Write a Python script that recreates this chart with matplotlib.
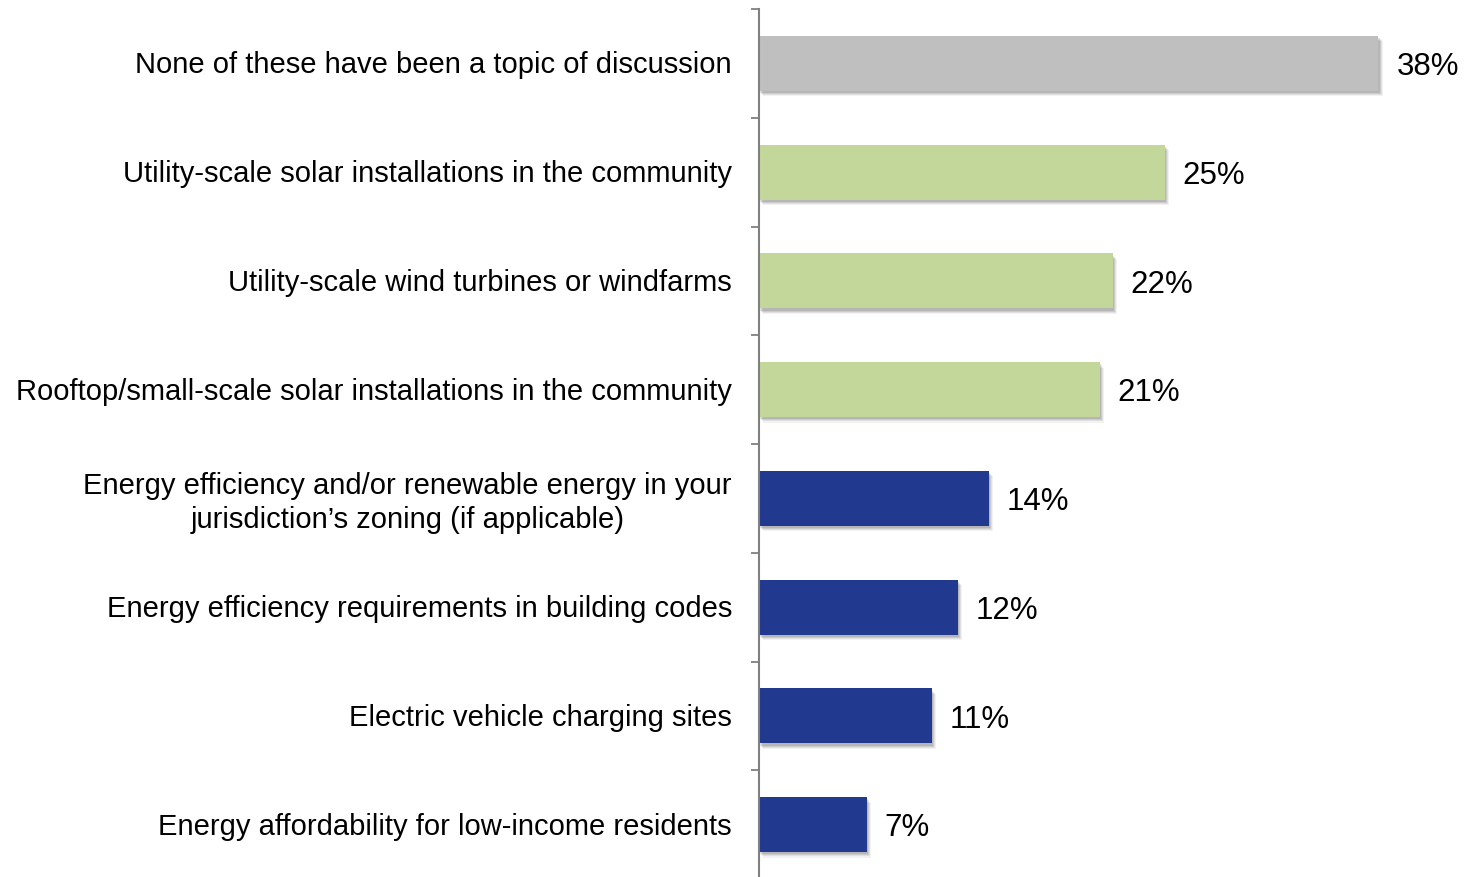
import matplotlib
matplotlib.use("Agg")
import matplotlib.pyplot as plt
import matplotlib.transforms as mtransforms
from matplotlib.patches import Rectangle
import numpy as np

categories = [
    "None of these have been a topic of discussion",
    "Utility-scale solar installations in the community",
    "Utility-scale wind turbines or windfarms",
    "Rooftop/small-scale solar installations in the community",
    "Energy efficiency and/or renewable energy in your\njurisdiction\u2019s zoning (if applicable)",
    "Energy efficiency requirements in building codes",
    "Electric vehicle charging sites",
    "Energy affordability for low-income residents",
]
values = [38.0, 24.9, 21.7, 20.9, 14.1, 12.2, 10.6, 6.6]
labels = ["38%", "25%", "22%", "21%", "14%", "12%", "11%", "7%"]
groups = ["none", "green", "green", "green", "blue", "blue", "blue", "blue"]
palette = {"none": "#BFBFBF", "green": "#C4D79B", "blue": "#21398F"}

plt.rcParams['font.family'] = ['Liberation Sans', 'DejaVu Sans']

W, H = 1464, 878
fig = plt.figure(figsize=(W / 100, H / 100), dpi=100)
ax_left = 759 / W
ax_top = 1 - 10 / H
ax_bottom = (H - 880) / H
ax = fig.add_axes([ax_left, ax_bottom, 1 - ax_left, ax_top - ax_bottom])

px_per_unit = 16.3
ax.set_xlim(0, (W - 759) / px_per_unit)
ax.set_ylim(len(categories) - 0.5, -0.5)

y = np.arange(len(categories))
bar_h = 0.505
colors = [palette[g] for g in groups]

# soft shadows
for yi, v in zip(y, values):
    for dx, dy, a in [(0.26, 0.05, 0.05), (0.2, 0.04, 0.07), (0.14, 0.03, 0.09), (0.08, 0.02, 0.10)]:
        ax.add_patch(Rectangle((dx, yi - bar_h / 2 + dy), v, bar_h,
                               facecolor="#000000", alpha=a, edgecolor="none", zorder=1))
ax.barh(y, values, height=bar_h, color=colors, edgecolor="none", zorder=2)

for yi, v, lab in zip(y, values, labels):
    ax.text(v + 18 / px_per_unit, yi + 0.025, lab, va="center", ha="left", fontsize=22.5, color="#000000")

ax.set_yticks(y)
ax.set_yticklabels(categories, fontsize=21, multialignment="center", linespacing=1.25)
ax.tick_params(axis="y", which="major", length=0, pad=19.5)
shift = mtransforms.ScaledTranslation(0, 2 / 100, fig.dpi_scale_trans)
for t in ax.get_yticklabels():
    t.set_transform(t.get_transform() + shift)
ax.set_yticks(np.arange(-0.5, len(categories), 1.0), minor=True)
ax.tick_params(axis="y", which="minor", length=6, width=1.3, color="#808080", direction="out")
ax.set_xticks([])

for s in ["top", "right", "bottom"]:
    ax.spines[s].set_visible(False)
ax.spines["left"].set_color("#808080")
ax.spines["left"].set_linewidth(1.5)
ax.spines["left"].set_zorder(3)

fig.savefig("out.png", dpi=100)
